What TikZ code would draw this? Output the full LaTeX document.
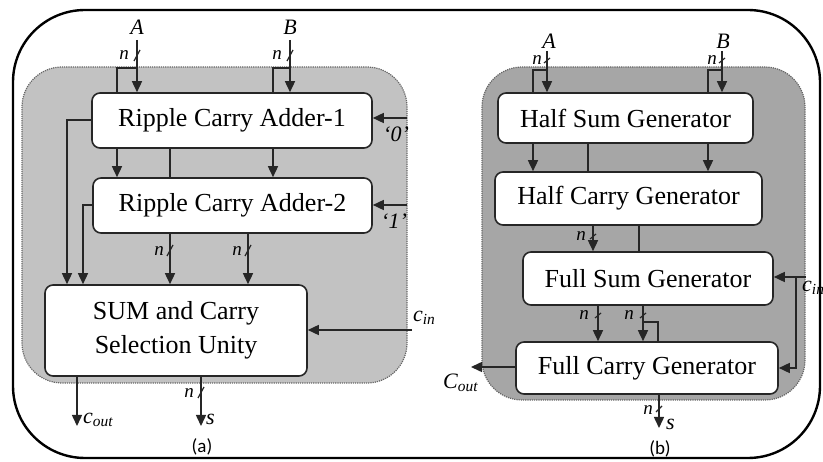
\documentclass[tikz,border=0pt]{standalone}
\usepackage{fontspec}
\setmainfont{Liberation Serif}
\newfontfamily\capfont{Carlito}
\usetikzlibrary{arrows.meta}

\begin{document}
\begin{tikzpicture}[x=1pt,y=-1pt,
  box/.style={draw=black!85, line width=1.6pt, fill=white, rounded corners=8pt,
    font=\fontsize{26}{34}\selectfont, inner sep=0pt, align=center},
  panel/.style={fill=#1, draw=black!60, densely dotted, line width=1.2pt, rounded corners=40pt},
  wire/.style={line width=1.5pt, draw=black!85},
  arr/.style={wire, -{Triangle[length=11pt,width=10pt]}},
  lab/.style={font=\fontsize{22}{24}\selectfont\itshape, inner sep=0pt},
  nlab/.style={font=\fontsize{19}{20}\selectfont\itshape, inner sep=0pt},
  tick/.style={line width=1.2pt, draw=black!85},
  caplab/.style={font=\capfont\fontsize{19}{22}\selectfont, inner sep=0pt}]

\useasboundingbox (0,0) rectangle (823,462);
\draw[line width=2.4pt, rounded corners=72pt] (13,10) rectangle (820,458);

% ---------------- (a) carry select adder ----------------
\draw[panel=gray!48] (22,67) rectangle (407,383);

\node[box, minimum width=280pt, minimum height=55pt] (rca1) at (232,120.5) {Ripple Carry Adder-1};
\node[box, minimum width=279pt, minimum height=55pt] (rca2) at (232.5,205.5) {Ripple Carry Adder-2};
\node[box, minimum width=262pt, minimum height=91pt] (scs) at (176,330.5) {SUM and Carry\\Selection Unity};

% operand inputs
\coordinate (aA) at (137,40);
\coordinate (aB) at (290,40);
\coordinate (aAbr) at (117,68);
\coordinate (aBbr) at (273,68);
\node[lab] (aAlab) at (137,27) {A};
\node[lab] (aBlab) at (290,27) {B};
\draw[arr] (aA) -- (aA |- rca1.north);
\draw[arr] (aB) -- (aB |- rca1.north);
\draw[wire] (aAbr -| aA) -- (aAbr) -- (aAbr |- rca1.north);
\draw[wire] (aBbr -| aB) -- (aBbr) -- (aBbr |- rca1.north);
\node[nlab] at (124,55) {n};
\draw[tick] (134,61) -- (140,50);
\node[nlab] at (277,55) {n};
\draw[tick] (287,61) -- (293,50);

% operands passed on to the second adder, carry link between adders
\draw[arr] (rca1.south -| aAbr) -- (rca2.north -| aAbr);
\draw[arr] (rca1.south -| aBbr) -- (rca2.north -| aBbr);
\coordinate (aLink) at (170,160);
\draw[wire] (rca1.south -| aLink) -- (rca2.north -| aLink);

% carry-in constants
\coordinate (aZero) at (407,118);
\coordinate (aOne) at (407,205);
\draw[arr] (aZero) -- (aZero -| rca1.east);
\draw[arr] (aOne) -- (aOne -| rca2.east);
\node[lab] (zlab) at (396,134) {‘0’};
\node[lab] (olab) at (394,221) {‘1’};

% adder outputs towards the selection unit
\coordinate (aL1) at (67,120);
\coordinate (aL2) at (83,205);
\draw[arr] (rca1.west |- aL1) -- (aL1) -- (aL1 |- scs.north);
\draw[arr] (rca2.west |- aL2) -- (aL2) -- (aL2 |- scs.north);
\coordinate (aS1) at (170,250);
\coordinate (aS2) at (248,250);
\draw[arr] (rca2.south -| aS1) -- (aS1 |- scs.north);
\draw[arr] (rca2.south -| aS2) -- (aS2 |- scs.north);
\node[nlab] at (159,251) {n};
\draw[tick] (167,256) -- (173,245);
\node[nlab] at (237,251) {n};
\draw[tick] (245,256) -- (251,245);

% carry in of the selection unit
\coordinate (aCin) at (412,330);
\draw[arr] (aCin) -- (aCin -| scs.east);
\node[lab, anchor=west] (acinlab) at (413,318) {c\textsubscript{in}};

% outputs
\coordinate (aCout) at (77,426);
\coordinate (aSout) at (201,426);
\draw[arr] (scs.south -| aCout) -- (aCout);
\draw[arr] (scs.south -| aSout) -- (aSout);
\node[lab, anchor=west] (acoutlab) at (83,420) {c\textsubscript{out}};
\node[lab, anchor=west] (aslab) at (206,419) {s};
\node[nlab] at (189,393) {n};
\draw[tick] (198,398) -- (204,387);
\node[caplab] (capa) at (202,447) {(a)};

% ---------------- (b) modified adder ----------------
\draw[panel=gray!70] (482,67) rectangle (805,400);

\node[box, minimum width=255pt, minimum height=50pt] (hsg) at (625.5,118) {Half Sum Generator};
\node[box, minimum width=267pt, minimum height=53pt] (hcg) at (628.5,198.5) {Half Carry Generator};
\node[box, minimum width=250pt, minimum height=53pt] (fsg) at (648,278.5) {Full Sum Generator};
\node[box, minimum width=262pt, minimum height=52pt] (fcg) at (647,368) {Full Carry Generator};

% operand inputs
\coordinate (bA) at (547,51);
\coordinate (bB) at (722,51);
\coordinate (bAbr) at (533,70);
\coordinate (bBbr) at (708,70);
\node[lab] (bAlab) at (549,41) {A};
\node[lab] (bBlab) at (723,41) {B};
\draw[arr] (bA) -- (bA |- hsg.north);
\draw[arr] (bB) -- (bB |- hsg.north);
\draw[wire] (bAbr -| bA) -- (bAbr) -- (bAbr |- hsg.north);
\draw[wire] (bBbr -| bB) -- (bBbr) -- (bBbr |- hsg.north);
\node[nlab] at (537,60) {n};
\draw[tick] (544,63) -- (550,58);
\node[nlab] at (712,60) {n};
\draw[tick] (719,63) -- (725,58);

% half sum stage to half carry stage
\draw[arr] (hsg.south -| bAbr) -- (hcg.north -| bAbr);
\draw[arr] (hsg.south -| bBbr) -- (hcg.north -| bBbr);
\coordinate (bLink1) at (588,160);
\draw[wire] (hsg.south -| bLink1) -- (hcg.north -| bLink1);

% half carry stage to full sum stage
\coordinate (bH) at (593,240);
\draw[arr] (hcg.south -| bH) -- (bH |- fsg.north);
\node[nlab] at (581,236) {n};
\draw[tick] (590,239) -- (596,234);
\coordinate (bLink2) at (639,240);
\draw[wire] (hcg.south -| bLink2) -- (fsg.north -| bLink2);

% carry in, fed to both full stages
\coordinate (bCin) at (806,277);
\coordinate (bCv) at (796,277);
\draw[arr] (bCin) -- (bCin -| fsg.east);
\draw[arr] (bCv) -- (bCv |- fcg.east) -- (fcg.east);
\node[lab, anchor=west] (bcinlab) at (802,288) {c\textsubscript{in}};

% full sum stage to full carry stage
\coordinate (bF1) at (598,320);
\coordinate (bF2) at (643,320);
\coordinate (bFbr) at (658,322);
\draw[arr] (fsg.south -| bF1) -- (bF1 |- fcg.north);
\draw[arr] (fsg.south -| bF2) -- (bF2 |- fcg.north);
\draw[wire] (bFbr -| bF2) -- (bFbr) -- (bFbr |- fcg.north);
\node[nlab] at (584,315) {n};
\draw[tick] (595,318) -- (601,313);
\node[nlab] at (629,315) {n};
\draw[tick] (640,318) -- (646,313);

% outputs
\coordinate (bCout) at (471,367);
\coordinate (bSout) at (659,428);
\draw[arr] (fcg.west |- bCout) -- (bCout);
\draw[arr] (fcg.south -| bSout) -- (bSout);
\node[lab, anchor=west] (bcoutlab) at (443,383) {C\textsubscript{out}};
\node[nlab] at (648,410) {n};
\draw[tick] (656,412) -- (662,406);
\node[lab, anchor=west] (bslab) at (666,424) {s};
\node[caplab] (capb) at (660,449) {(b)};
\end{tikzpicture}
\end{document}
